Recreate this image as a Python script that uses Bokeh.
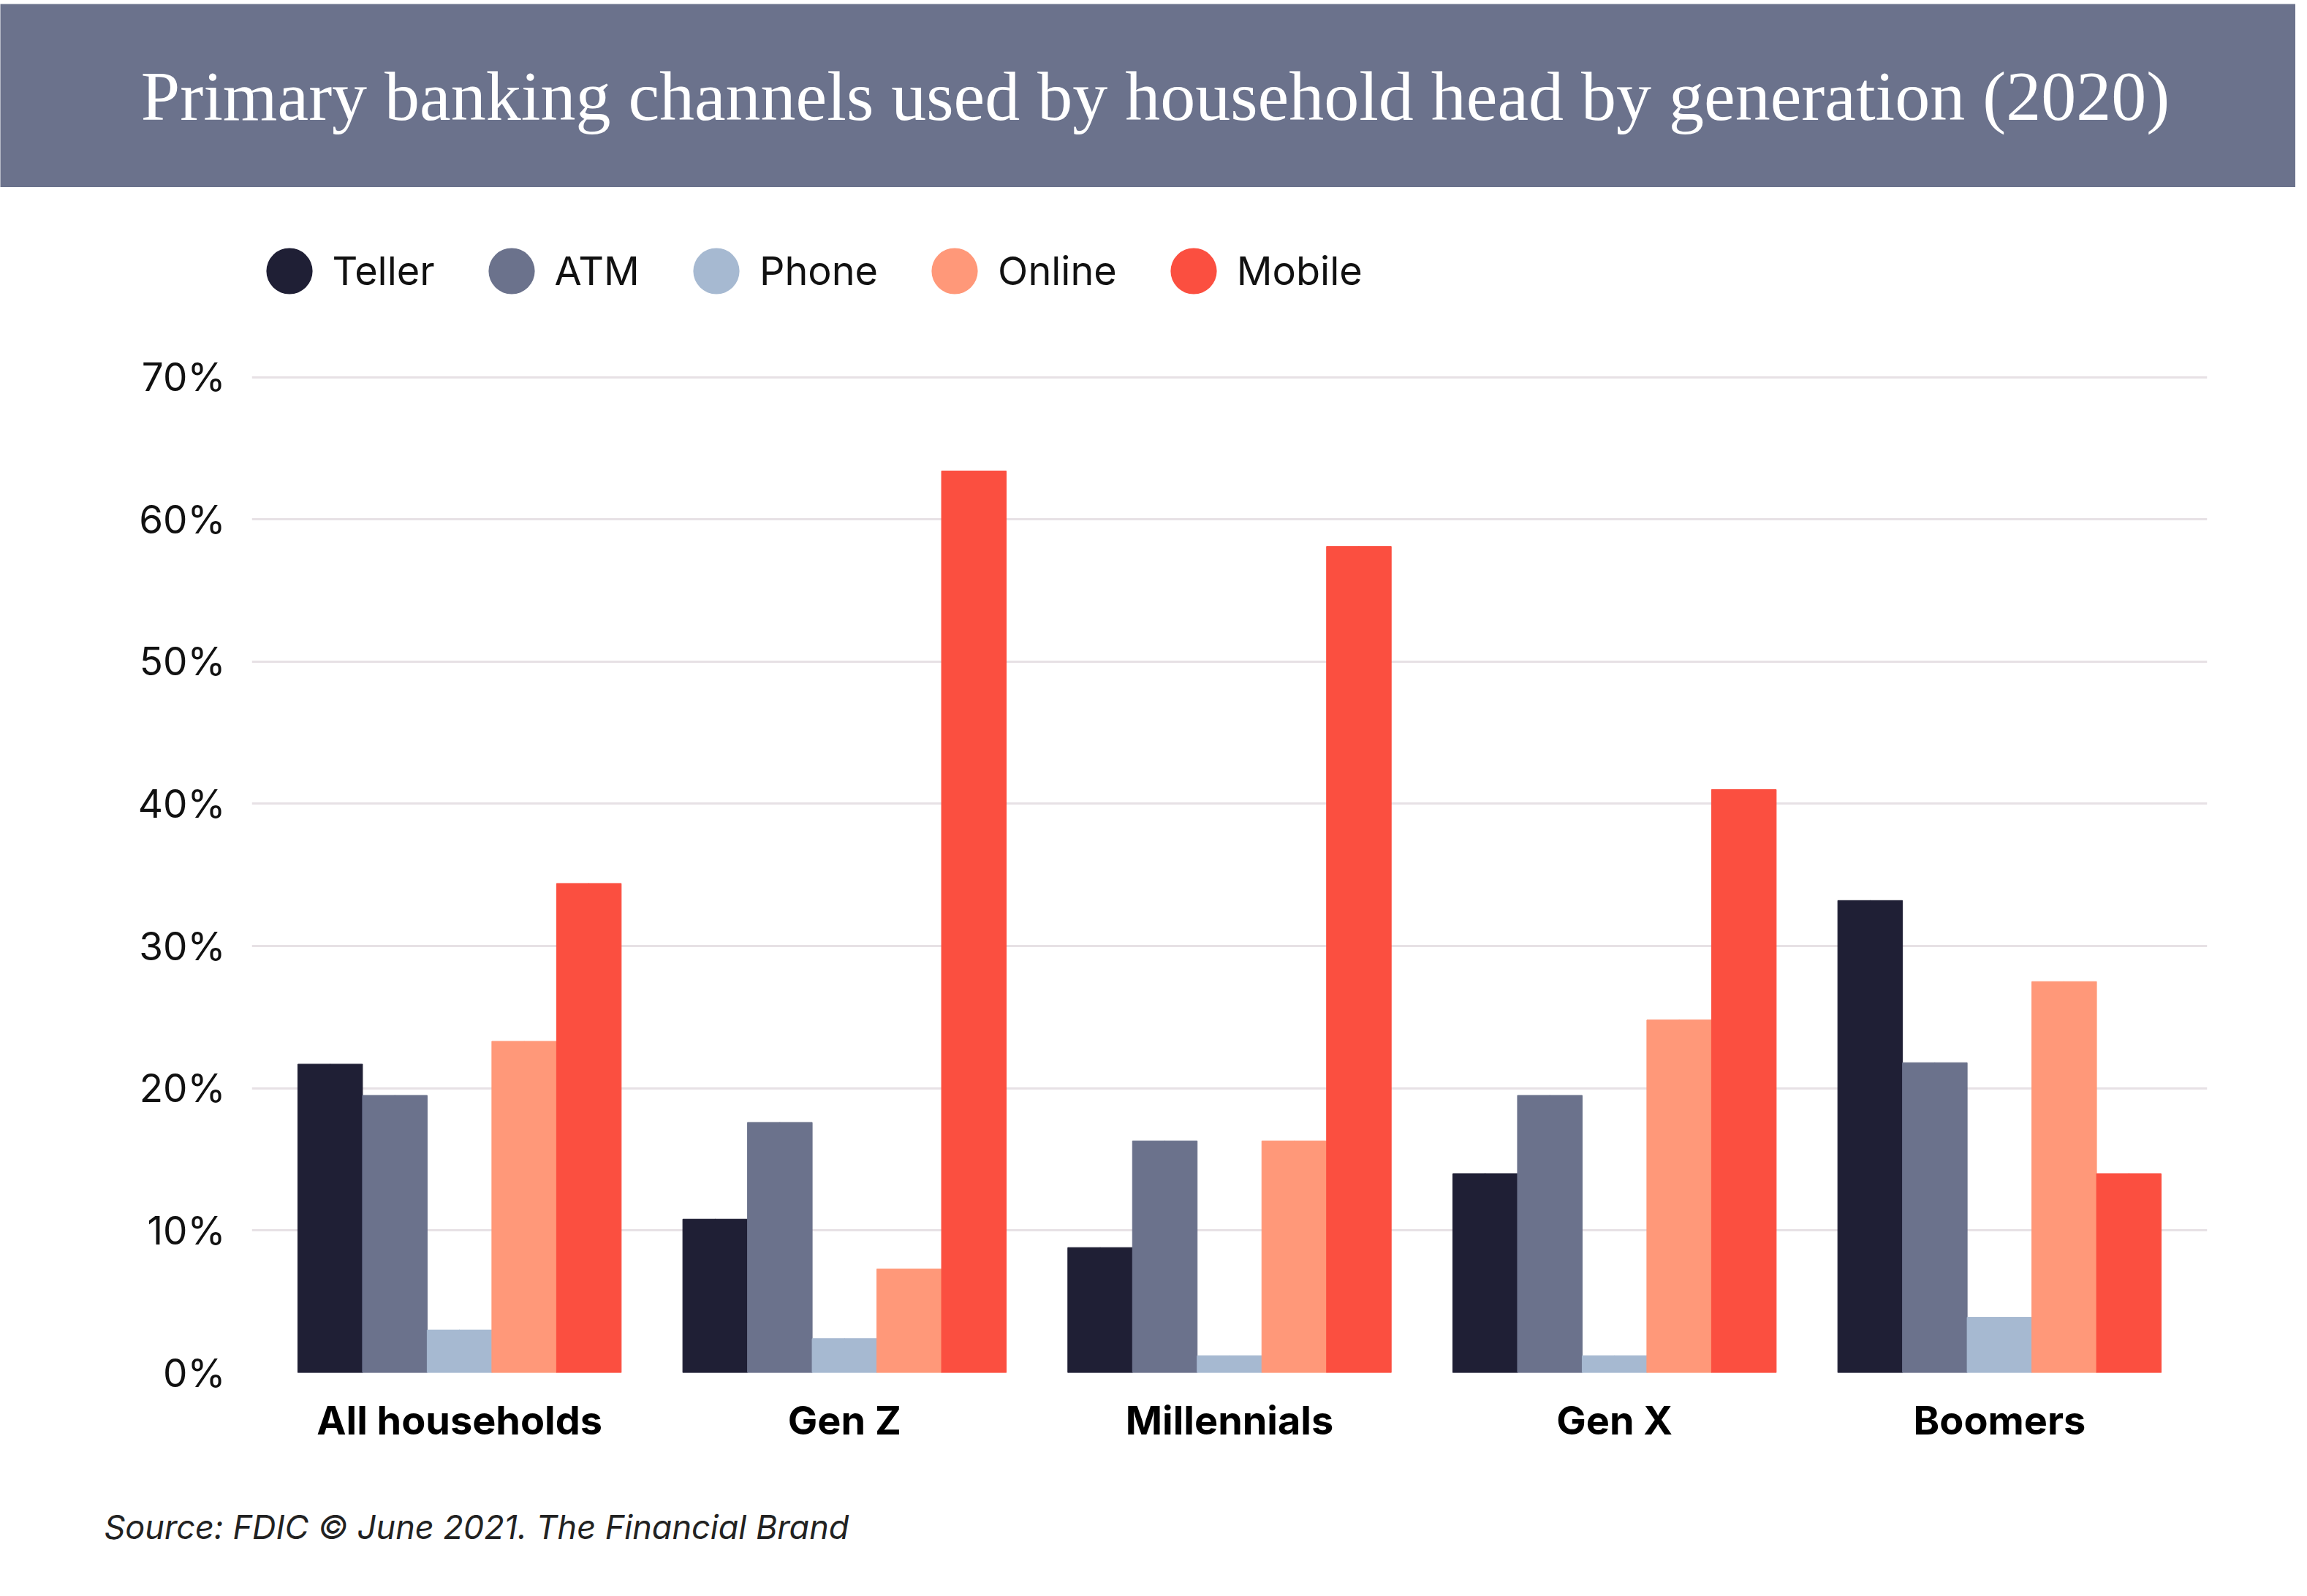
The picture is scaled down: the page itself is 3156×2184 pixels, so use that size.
from bokeh.plotting import figure
from bokeh.models import (ColumnDataSource, FactorRange, Range1d, Legend, LegendItem,
                          Label, FixedTicker, PrintfTickFormatter)
from bokeh.transform import dodge
from bokeh.layouts import column
from bokeh.embed import file_html
from bokeh.resources import INLINE

# ---------------- data ----------------
categories = ["All households", "Gen Z", "Millennials", "Gen X", "Boomers"]
series = ["Teller", "ATM", "Phone", "Online", "Mobile"]
teller = [21.7, 10.8, 8.8, 14.0, 33.2]
atm = [19.5, 17.6, 16.3, 19.5, 21.8]
phone = [3.0, 2.4, 1.2, 1.2, 3.9]
online = [23.3, 7.3, 16.3, 24.8, 27.5]
mobile = [34.4, 63.4, 58.1, 41.0, 14.0]
y_ticks = [0, 10, 20, 30, 40, 50, 60, 70]

title_text = "Primary banking channels used by household head by generation (2020)"
source_text = "Source: FDIC \u00a9 June 2021. The Financial Brand"

# ---------------- styling ----------------
HDR = "#6b728c"
colors = ["#1f1f35", "#6b728c", "#a6b9d1", "#ff9879", "#fb4f40"]
W = 3140
SANS = "Inter"


def blank_fig(height, bg="white", **kw):
    f = figure(width=W, height=height, x_range=Range1d(0, 1), y_range=Range1d(0, 1),
               output_backend="svg", toolbar_location=None, min_border=0,
               x_axis_location=None, y_axis_location=None, frame_align=False,
               outline_line_color=None, background_fill_color=bg, border_fill_color="white", **kw)
    f.grid.visible = False
    return f


# ---------------- header ----------------
header = blank_fig(256, bg=HDR, min_border_top=5)
header.add_layout(Label(x=0.5, y=0.5, x_offset=10, text=title_text, text_align="center",
                        text_baseline="middle", text_color="white",
                        text_font="Liberation Serif", text_font_size="96px"))

# ---------------- main chart ----------------
src = ColumnDataSource(dict(cat=categories, Teller=teller, ATM=atm, Phone=phone,
                            Online=online, Mobile=mobile))

x_range = FactorRange(factors=categories, range_padding=0.0395, range_padding_units="absolute")
# y range extends above 70% so that the legend row sits inside the plot frame
p = figure(width=W, height=1744, x_range=x_range, y_range=Range1d(0, 82),
           output_backend="svg", toolbar_location=None, frame_align=False,
           min_border_left=344, min_border_right=121, min_border_top=26, min_border_bottom=122,
           outline_line_color=None, background_fill_color="white", border_fill_color="white")

bw = 0.168
offsets = [-2 * bw, -bw, 0.0, bw, 2 * bw]
legend_items = []
for name, off, col in zip(series, offsets, colors):
    p.vbar(x=dodge("cat", off, range=p.x_range), top=name, width=bw, source=src,
           fill_color=col, line_color=col, line_width=1)
    # tiny same-colour ellipses (1px) serve as the round legend keys
    key = p.ellipse(x=dodge("cat", off, range=p.x_range), y=name, width=1, height=1,
                    width_units="screen", height_units="screen", source=src,
                    fill_color=col, line_color=None)
    legend_items.append(LegendItem(label=name, renderers=[key]))

legend = Legend(items=legend_items, orientation="horizontal", location=(11.5, 1468.5),
                glyph_width=79, glyph_height=79, label_standoff=20, spacing=65,
                padding=0, margin=0, border_line_color=None, background_fill_alpha=0,
                label_text_font=SANS, label_text_font_size="54px", label_text_color="#111111")
p.add_layout(legend)

p.yaxis.ticker = FixedTicker(ticks=y_ticks)
p.yaxis.formatter = PrintfTickFormatter(format="%d%%")
p.yaxis.major_label_text_font = SANS
p.yaxis.major_label_text_font_size = "53px"
p.yaxis.major_label_text_color = "#111111"
p.yaxis.major_label_standoff = 36
p.xaxis.major_label_text_font = SANS
p.xaxis.major_label_text_font_size = "54px"
p.xaxis.major_label_text_font_style = "bold"
p.xaxis.major_label_text_color = "#000000"
p.xaxis.major_label_standoff = 32
for ax in (p.xaxis, p.yaxis):
    ax.axis_line_color = None
    ax.major_tick_line_color = None
    ax.minor_tick_line_color = None
    ax.major_tick_in = 0
    ax.major_tick_out = 0

p.xgrid.grid_line_color = None
p.ygrid.grid_line_color = "#e7e1e5"
p.ygrid.grid_line_width = 3

# ---------------- footer ----------------
footer = blank_fig(168)
footer.add_layout(Label(x=142, y=79, x_units="screen", y_units="screen", text=source_text,
                        text_align="left", text_baseline="alphabetic", text_font=SANS,
                        text_font_style="italic", text_font_size="45px", text_color="#222222"))

layout = column(header, p, footer)
open("out.html", "w").write(file_html(layout, INLINE))
